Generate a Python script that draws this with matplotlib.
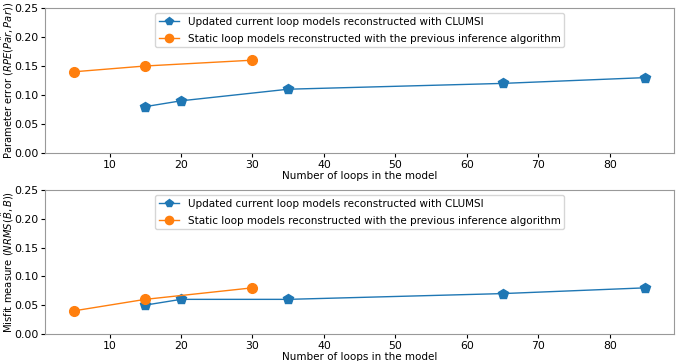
import matplotlib
matplotlib.use("Agg")
import matplotlib.pyplot as plt

# Data
loops_new = [15, 20, 35, 65, 85]
loops_old = [5, 15, 30]
rpe_new = [0.08, 0.09, 0.11, 0.12, 0.13]
rpe_old = [0.14, 0.15, 0.16]
nrms_new = [0.05, 0.06, 0.06, 0.07, 0.08]
nrms_old = [0.04, 0.06, 0.08]

label_new = 'Updated current loop models reconstructed with CLUMSI'
label_old = 'Static loop models reconstructed with the previous inference algorithm'

plt.rcParams['font.size'] = 7.5

fig = plt.figure(figsize=(6.85, 3.61), dpi=100)
ax1 = fig.add_axes([0.066, 0.576, 0.918, 0.402])
ax2 = fig.add_axes([0.066, 0.075, 0.918, 0.399])

panels = [
    (ax1, rpe_new, rpe_old, r'Parameter error ($RPE(\hat{Par}, Par)$)'),
    (ax2, nrms_new, nrms_old, r'Misfit measure ($NRMS(\hat{B}, B)$)'),
]

for ax, y_new, y_old, ylab in panels:
    ax.plot(loops_new, y_new, marker='p', markersize=7, linewidth=1, label=label_new)
    ax.plot(loops_old, y_old, marker='o', markersize=7, linewidth=1, label=label_old)
    ax.set_ylim(0, 0.25)
    ax.tick_params(labelsize=7.8, pad=2, length=3)
    ax.set_xlabel('Number of loops in the model', labelpad=0.5)
    ax.set_ylabel(ylab, fontsize=7.2)
    ax.yaxis.set_label_coords(-0.047, 0.5)
    ax.legend(loc='upper center', fontsize=7.5, markerscale=0.85,
              borderaxespad=0.5, borderpad=0.35, handlelength=2, labelspacing=0.65)
    for s in ax.spines.values():
        s.set_color('#999999')

fig.savefig('out.png', dpi=100)
